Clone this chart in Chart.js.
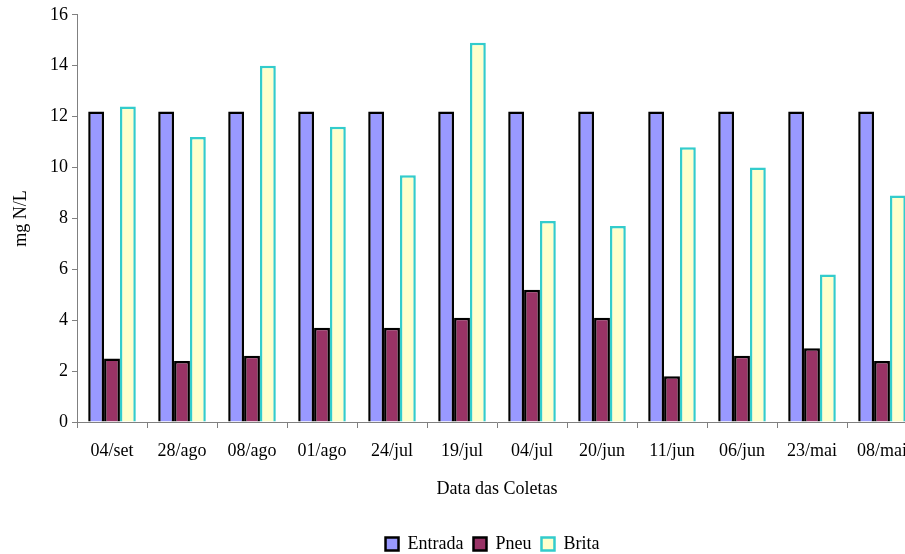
<!DOCTYPE html>
<html>
<head>
<meta charset="utf-8">
<script src="https://cdn.jsdelivr.net/npm/chart.js"></script>
<style>
  html, body { margin: 0; padding: 0; background: #fff; overflow: hidden; }
</style>
</head>
<body>
<canvas id="grafico" width="920" height="554"></canvas>
<script>
// datas das coletas
const datas = ["04/set", "28/ago", "08/ago", "01/ago", "24/jul", "19/jul", "04/jul", "20/jun", "11/jun", "06/jun", "23/mai", "08/mai"];
const entrada = [12.2, 12.2, 12.2, 12.2, 12.2, 12.2, 12.2, 12.2, 12.2, 12.2, 12.2, 12.2];
const pneu = [2.5, 2.4, 2.6, 3.7, 3.7, 4.1, 5.2, 4.1, 1.8, 2.6, 2.9, 2.4];
const brita = [12.4, 11.2, 14.0, 11.6, 9.7, 14.9, 7.9, 7.7, 10.8, 10.0, 5.8, 8.9];

const fonte = "'Liberation Serif', 'Times New Roman', serif";
Chart.defaults.font.family = fonte;
Chart.defaults.font.size = 18;
Chart.defaults.color = "#000";

// legenda um pouco deslocada para a direita, como no original
const moveLegenda = {
    id: "moveLegenda",
    afterLayout: function (chart) {
        chart.legend.left += 34;
        chart.legend.right += 34;
    }
};

const ctx = document.getElementById("grafico").getContext("2d");
new Chart(ctx, {
    type: "bar",
    data: {
        labels: datas,
        datasets: [
            { label: "Entrada", data: entrada, backgroundColor: "#9999ff", borderColor: "#000", borderWidth: 2.5 },
            { label: "Pneu", data: pneu, backgroundColor: "#993366", borderColor: "#000", borderWidth: 2.5 },
            { label: "Brita", data: brita, backgroundColor: "#ffffcc", borderColor: "#33cccc", borderWidth: 2.5 }
        ]
    },
    plugins: [moveLegenda],
    options: {
        responsive: false,
        animation: false,
        layout: { padding: { top: 10, right: 3, left: 0, bottom: -9 } },
        datasets: { bar: { categoryPercentage: 0.68, barPercentage: 1.0 } },
        plugins: {
            tooltip: { enabled: false },
            legend: {
                position: "bottom",
                labels: { boxWidth: 13, boxHeight: 13, padding: 10, font: { size: 18 } }
            }
        },
        scales: {
            x: {
                grid: { drawOnChartArea: false, color: "#808080", tickLength: 6 },
                border: { color: "#808080", width: 1 },
                ticks: { padding: 12, maxRotation: 0, autoSkip: false },
                title: { display: true, text: "Data das Coletas", padding: { top: 12, bottom: 25 } },
                afterFit: function (scale) { scale.height = 103; }
            },
            y: {
                min: 0,
                max: 16,
                ticks: { stepSize: 2, padding: 4 },
                grid: { drawOnChartArea: false, color: "#808080", tickLength: 5 },
                border: { color: "#808080", width: 1 },
                title: { display: true, text: "mg N/L", padding: { top: 10, bottom: 0 } },
                afterFit: function (scale) { scale.width = 77; }
            }
        }
    }
});
</script>
</body>
</html>
